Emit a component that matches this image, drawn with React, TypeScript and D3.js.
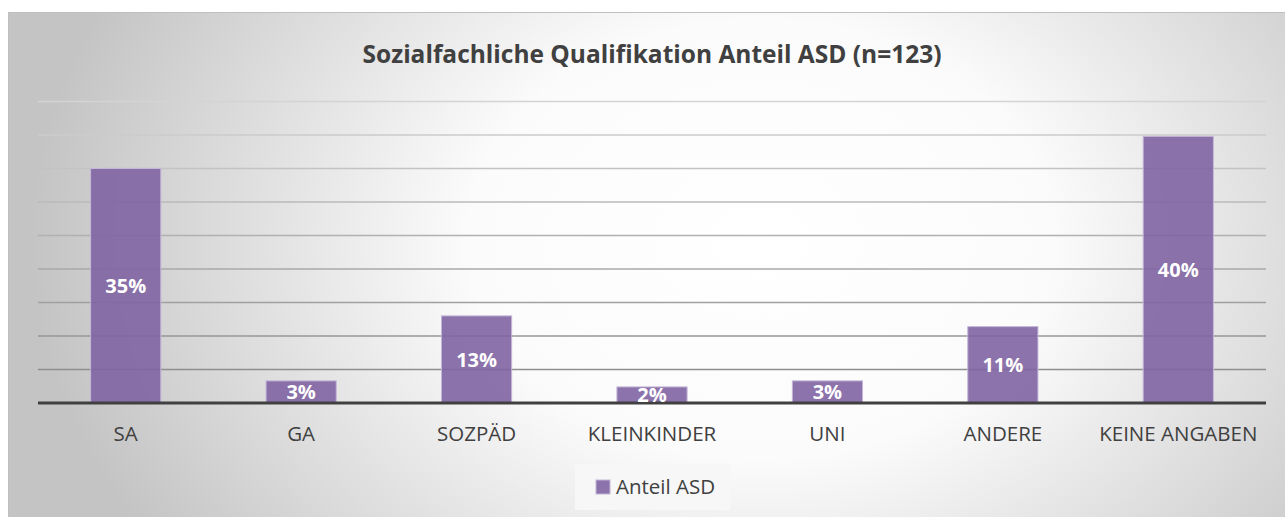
import React from 'react';
import * as d3 from 'd3';

// chart data
const categories = ['SA', 'GA', 'SOZPÄD', 'KLEINKINDER', 'UNI', 'ANDERE', 'KEINE ANGABEN'];
const shares = [35.0, 3.3, 13.0, 2.4, 3.3, 11.4, 39.8];
const valueLabels = ['35%', '3%', '13%', '2%', '3%', '11%', '40%'];
const gridValues = [5, 10, 15, 20, 25, 30, 35, 40, 45];
const title = 'Sozialfachliche Qualifikation Anteil ASD (n=123)';
const seriesName = 'Anteil ASD';

const W = 1285;
const H = 517;
const frame = { x: 8, y: 12, w: 1290, h: 520 };
const plot = { left: 38, right: 1266, top: 101.5, bottom: 403 };
const FONT = '"Open Sans", "DejaVu Sans", sans-serif';

const App = () => {
  const x = d3.scaleBand<string>()
    .domain(categories)
    .range([plot.left, plot.right])
    .paddingInner(0.6)
    .paddingOuter(0.3);
  const y = d3.scaleLinear().domain([0, 45]).range([plot.bottom, plot.top]);
  const gridColor = d3.scaleLinear<string>().domain([45, 5]).range(['#d4d4d4', '#8e8e8e']);

  const bars = categories.map((c, i) => ({ c, v: shares[i], label: valueLabels[i] }));

  return (
    <svg width={W} height={H} style={{ position: 'absolute', left: 0, top: 0, display: 'block' }}>
      <defs>
        <radialGradient id="bg" gradientUnits="userSpaceOnUse" cx={760} cy={240} r={730}
          gradientTransform="translate(760 240) scale(1 0.75) translate(-760 -240)">
          <stop offset="0" stopColor="#ffffff" />
          <stop offset="0.4" stopColor="#fbfbfb" />
          <stop offset="1" stopColor="#c4c4c4" />
        </radialGradient>
      </defs>
      <rect x={0} y={0} width={W} height={H} fill="#ffffff" />
      <rect x={frame.x + 0.5} y={frame.y + 0.5} width={frame.w} height={frame.h}
        fill="url(#bg)" stroke="#bfbfbf" strokeWidth={1} />

      <text x={652} y={63} textAnchor="middle" fontFamily={FONT} fontWeight={700}
        fontSize={24.5} fill="#404040">{title}</text>

      <g className="grid">
        {gridValues.map(v => (
          <line key={v} x1={plot.left} x2={plot.right} y1={y(v)} y2={y(v)}
            stroke={gridColor(v)} strokeWidth={1.3} />
        ))}
      </g>

      <g className="bars">
        {bars.map(d => (
          <rect key={d.c} x={x(d.c)!} y={y(d.v)} width={x.bandwidth()} height={y(0) - y(d.v)}
            fill="#8064a2" fillOpacity={0.9} stroke="#c4b6d8" strokeWidth={1} />
        ))}
      </g>

      <line x1={plot.left} x2={plot.right} y1={y(0)} y2={y(0)} stroke="#404040" strokeWidth={3} />

      <g className="labels">
        {bars.map(d => (
          <text key={d.c} x={x(d.c)! + x.bandwidth() / 2} y={(y(d.v) + y(0)) / 2} dy="0.36em"
            textAnchor="middle" fontFamily={FONT} fontWeight={700} fontSize={20} fill="#ffffff">
            {d.label}
          </text>
        ))}
      </g>

      <g className="x-axis">
        {categories.map(c => (
          <text key={c} x={x(c)! + x.bandwidth() / 2} y={441} textAnchor="middle"
            fontFamily={FONT} fontSize={20.5} fill="#404040">{c}</text>
        ))}
      </g>

      <g className="legend">
        <rect x={575} y={464} width={155} height={46} fill="#f7f7f7" />
        <rect x={596} y={480} width={14} height={14} fill="#8064a2" fillOpacity={0.9}
          stroke="#c4b6d8" strokeWidth={1} />
        <text x={616} y={494} fontFamily={FONT} fontSize={20.5} fill="#404040">{seriesName}</text>
      </g>
    </svg>
  );
};

export default App;
